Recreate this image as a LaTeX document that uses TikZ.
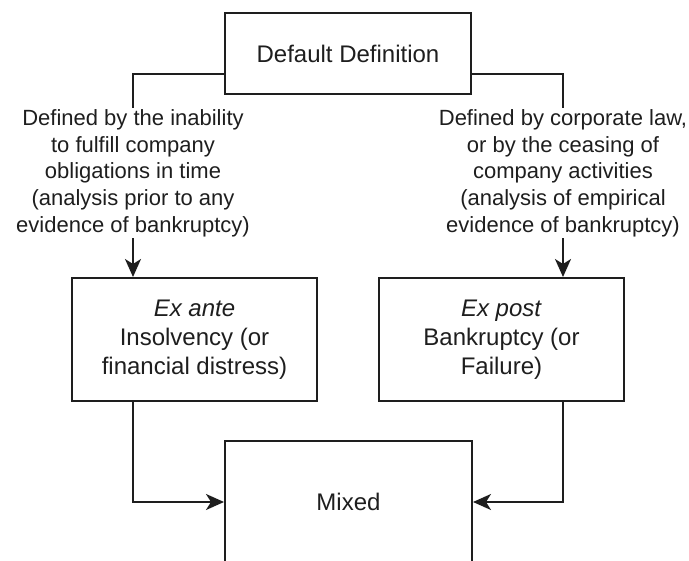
\documentclass[tikz,border=0pt]{standalone}
\usepackage{fontspec}
\setmainfont{Liberation Sans}
\usetikzlibrary{arrows.meta,calc}
\definecolor{ink}{RGB}{30,30,30}
\begin{document}
\begin{tikzpicture}[x=1pt,y=-1pt,
  box/.style={draw=ink, line width=2pt, align=center, text=ink, inner sep=0pt,
    font=\fontsize{24}{29}\selectfont},
  lbl/.style={align=center, text=ink, inner sep=1.5pt, font=\fontsize{22}{26.6}\selectfont},
  conn/.style={draw=ink, line width=2pt},
  arr/.style={conn, -{Stealth[length=18pt,width=16pt,inset=5pt]}}]
\useasboundingbox (0,0) rectangle (689,561);
\node[box, minimum width=246pt, minimum height=81pt] (top) at (348,53.5) {Default Definition};
\node[box, minimum width=245pt, minimum height=123pt] (exante) at (194.5,339.5)
  {\textit{Ex ante}\\Insolvency (or\\financial distress)};
\node[box, minimum width=245pt, minimum height=123pt] (expost) at (501.5,339.5)
  {\textit{Ex post}\\Bankruptcy (or\\Failure)};
\node[box, minimum width=247pt, minimum height=122pt] (mixed) at (348.5,502) {Mixed};
\node[lbl, anchor=north] (lab1) at (133,108)
  {Defined by the inability\\to fulfill company\\obligations in time\\(analysis prior to any\\evidence of bankruptcy)};
\node[lbl, anchor=north] (lab2) at (563,108)
  {Defined by corporate law,\\or by the ceasing of\\company activities\\(analysis of empirical\\evidence of bankruptcy)};
\coordinate (tl) at ($(top.south west)!0.25!(top.north west)$);
\coordinate (tr) at ($(top.south east)!0.25!(top.north east)$);
\draw[conn] (tl) -| (lab1.north);
\draw[conn] (tr) -| (lab2.north);
\draw[arr] (lab1.south) -- (lab1.south |- exante.north);
\draw[arr] (lab2.south) -- (lab2.south |- expost.north);
\draw[arr] (lab1.south |- exante.south) |- (mixed.west);
\draw[arr] (lab2.south |- expost.south) |- (mixed.east);
\end{tikzpicture}
\end{document}
